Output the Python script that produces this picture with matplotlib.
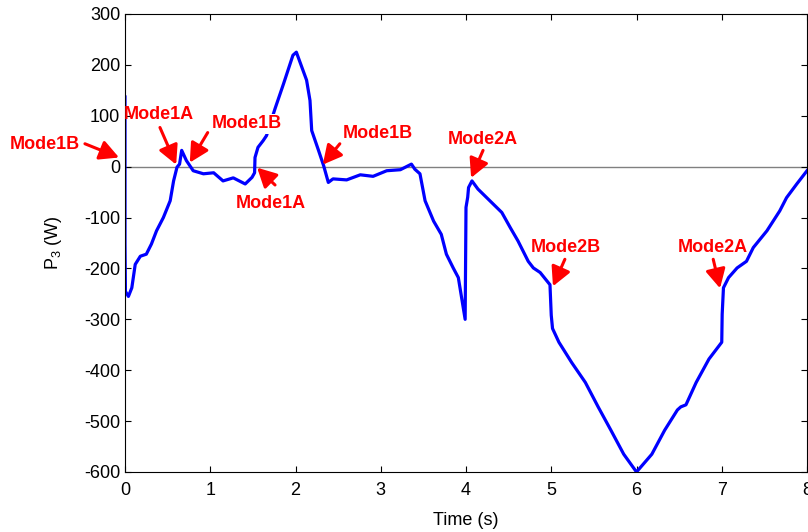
import numpy as np
from matplotlib import pyplot as plt

# -----------------------------
# DATA
# -----------------------------
t = [0.0, 0.0, 0.005, 0.04, 0.08, 0.12, 0.18, 0.25, 0.31, 0.37, 0.45, 0.53,
     0.57, 0.61, 0.64, 0.665, 0.72, 0.80, 0.92, 1.04, 1.15, 1.27, 1.41, 1.49,
     1.52, 1.525, 1.56, 1.62, 1.66, 1.76, 1.86, 1.97, 2.01, 2.13, 2.17, 2.19,
     2.27, 2.33, 2.385, 2.44, 2.60, 2.76, 2.91, 3.07, 3.23, 3.36, 3.40, 3.46,
     3.52, 3.62, 3.71, 3.77, 3.85, 3.91, 3.99, 4.0, 4.02, 4.03, 4.07, 4.14,
     4.28, 4.42, 4.52, 4.61, 4.73, 4.79, 4.87, 4.985, 5.0, 5.015, 5.09, 5.24,
     5.40, 5.55, 5.70, 5.85, 6.0, 6.18, 6.33, 6.48, 6.52, 6.58, 6.70, 6.85,
     7.0, 7.005, 7.02, 7.08, 7.18, 7.29, 7.37, 7.53, 7.68, 7.76, 7.88, 8.0]
p3 = [137, -152, -245, -255, -238, -192, -176, -172, -152, -126, -100, -67,
      -28, -1, 5, 32, 12, -8, -14, -12, -28, -22, -34, -21,
      -12, 18, 38, 51, 61, 114, 163, 219, 225, 170, 130, 71,
      32, 2, -31, -24, -26, -16, -19, -8, -6, 5, -5, -14,
      -67, -107, -133, -172, -199, -218, -300, -80, -60, -41, -28, -44,
      -67, -90, -120, -146, -186, -199, -208, -232, -292, -318, -345, -385,
      -424, -472, -518, -565, -600, -565, -518, -478, -472, -468, -424, -378,
      -345, -290, -238, -218, -199, -186, -159, -126, -87, -61, -34, -8]

labels = ["Mode1B", "Mode1A", "Mode1B", "Mode1A", "Mode1B",
          "Mode2A", "Mode2B", "Mode2A"]
label_pos = [(-0.94, 43), (0.40, 103), (1.43, 84), (1.71, -73), (2.97, 65),
             (4.20, 54), (5.17, -159), (6.89, -159)]
arrow_tail = [(-0.47, 45), (0.41, 77), (0.97, 67), (1.76, -36), (2.52, 45),
              (4.20, 32), (5.16, -182), (6.90, -182)]
arrow_head = [(-0.07, 18), (0.60, 4), (0.76, 8), (1.55, -2), (2.32, 4),
              (4.06, -22), (5.02, -235), (6.98, -239)]

xticks = [0, 1, 2, 3, 4, 5, 6, 7, 8]
yticks = [-600, -500, -400, -300, -200, -100, 0, 100, 200, 300]

# -----------------------------
# PLOT
# -----------------------------
plt.rcParams['font.family'] = ['Liberation Sans', 'DejaVu Sans']
plt.rcParams['mathtext.fontset'] = 'custom'
plt.rcParams['mathtext.rm'] = 'Liberation Sans'
plt.rcParams['mathtext.it'] = 'Liberation Sans'
plt.rcParams['axes.unicode_minus'] = False

fig = plt.figure(figsize=(8.08, 5.32), dpi=100)
ax = fig.add_axes([125/808, 1 - 472/532, 682/808, 458/532])

ax.axhline(0, color="#808080", linewidth=1.0, zorder=1)
ax.plot(t, p3, color="#0000ff", linewidth=2.3, zorder=2)

for i, (lab, pos, tail, head) in enumerate(zip(labels, label_pos, arrow_tail, arrow_head)):
    # the label over the rising edge near t=1.7 hides the trace behind it
    box = dict(facecolor="white", edgecolor="none", pad=1.0) if i == 2 else None
    ax.text(pos[0], pos[1], lab, color="red", fontsize=13, fontweight="bold",
            ha="center", va="center", clip_on=False, zorder=4, bbox=box)
    ax.annotate("", xy=head, xytext=tail, annotation_clip=False, zorder=5,
                arrowprops=dict(arrowstyle="-|>,head_length=1.15,head_width=0.6",
                                color="red", lw=2.2, mutation_scale=10,
                                shrinkA=0, shrinkB=0))

ax.set_xlim(0, 8)
ax.set_ylim(-600, 300)
ax.set_xticks(xticks)
ax.set_yticks(yticks)
ax.tick_params(direction="in", top=True, right=True, length=4.5, labelsize=13)
ax.tick_params(axis="x", pad=7.5)
ax.set_xlabel("Time (s)", fontsize=13, labelpad=9)
ax.set_ylabel("P$_3$ (W)", fontsize=13, labelpad=14)

fig.savefig("out.png", dpi=100)
